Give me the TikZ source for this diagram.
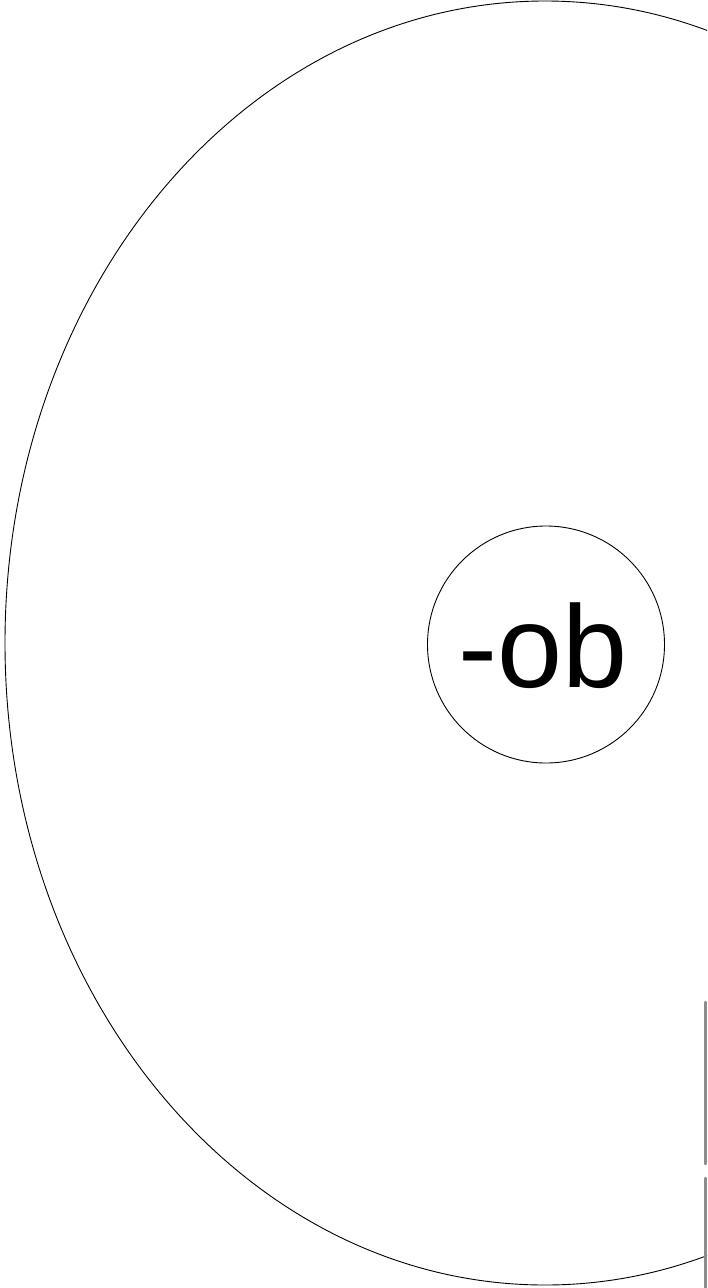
\documentclass[tikz,border=0pt]{standalone}
\usepackage{fontspec}
\setmainfont{Liberation Sans}
\begin{document}
\begin{tikzpicture}[x=1pt,y=-1pt,
  outline/.style={draw=black,line width=0.9pt},
  edgebar/.style={draw=black!45,line width=2.2pt,line cap=round}]
\useasboundingbox (0,0) rectangle (707,1288);
\clip (0,0) rectangle (707,1288);
\draw[outline] (545,643) ellipse [x radius=540, y radius=642];
\node[outline,circle,minimum size=237pt,inner sep=0pt] (c) at (546,644.5) {};
\node[anchor=base,inner sep=0pt,font=\fontsize{117}{117}\selectfont] (t) at (543,687) {-ob};
\coordinate (a1) at (705.5,1002);
\coordinate (a2) at (705.5,1164);
\coordinate (b1) at (705.5,1178);
\coordinate (b2) at (705.5,1300);
\draw[edgebar] (a1) -- (a2);
\draw[edgebar] (b1) -- (b2);
\end{tikzpicture}
\end{document}
